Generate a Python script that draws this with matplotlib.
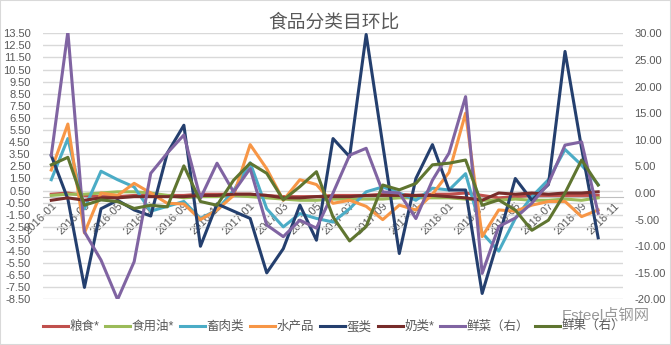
import numpy as np
import matplotlib
matplotlib.use('Agg')
import matplotlib.pyplot as plt
from matplotlib.ticker import FormatStrFormatter, MultipleLocator
from matplotlib.patches import Rectangle

plt.rcParams['font.family'] = ['Liberation Sans', 'Noto Sans CJK SC', 'DejaVu Sans']
plt.rcParams['axes.unicode_minus'] = False

# %%
months = ['2016-01', '2016-02', '2016-03', '2016-04', '2016-05', '2016-06',
          '2016-07', '2016-08', '2016-09', '2016-10', '2016-11', '2016-12',
          '2017-01', '2017-02', '2017-03', '2017-04', '2017-05', '2017-06',
          '2017-07', '2017-08', '2017-09', '2017-10', '2017-11', '2017-12',
          '2018-01', '2018-02', '2018-03', '2018-04', '2018-05', '2018-06',
          '2018-07', '2018-08', '2018-09', '2018-10', '2018-11']

# left axis (%)
grain = [0.2, 0.3, 0.1, 0.0, 0.0, 0.1, 0.1, 0.1, 0.1, 0.2, 0.2, 0.2, 0.2, 0.1, 0.0, 0.0, 0.0,
         0.1, 0.1, 0.1, 0.2, 0.2, 0.1, 0.2, 0.2, 0.3, 0.1, -0.1, 0.0, 0.1, 0.1, 0.1, 0.1, 0.1]
oil = [0.1, 0.2, 0.2, 0.3, 0.4, 0.4, 0.3, 0.1, -0.1, 0.0, 0.0, 0.1, 0.0, -0.1, -0.2, -0.3, -0.3,
       -0.2, -0.2, -0.2, -0.2, -0.1, -0.1, -0.1, -0.1, -0.2, -0.3, -0.3, -0.2, -0.3, -0.3, -0.2, -0.3, -0.1]
meat = [1.4, 4.8, -1.0, 2.1, 1.4, 0.8, -1.2, -0.8, -0.4, -1.8, -1.1, 0.5, 2.8, -1.0, -2.5, -1.4, -1.8,
        -2.1, -1.0, 0.4, 0.8, 0.3, -0.3, 0.7, 0.55, 1.9, -3.0, -4.5, -1.8, 0.0, 1.4, 3.9, 2.6, 1.0]
aquatic = [2.2, 6.0, -3.0, 0.3, 0.1, 1.1, 0.3, -0.55, -0.6, -1.9, -1.1, 0.1, 4.3, 2.3, -0.3, 1.4, 1.0,
           -0.55, -0.3, -0.8, -1.9, -0.7, -1.1, 0.2, 2.0, 6.9, -3.3, -1.1, -1.2, -0.7, -0.4, -0.4, -1.65, -1.1]
egg = [3.4, -0.2, -7.5, -1.0, -0.3, -1.1, -1.6, 3.6, 5.9, -4.1, -0.6, -1.2, -1.8, -6.3, -4.3, -0.7, -3.6,
       4.8, 3.3, 13.4, 4.3, -4.7, 1.5, 4.3, 0.55, 0.55, -8.0, -3.4, 1.5, -0.3, 1.0, 12.0, 4.0, -3.4]
milk = [-0.3, -0.1, -0.3, -0.1, -0.1, 0.0, 0.0, 0.0, 0.0, 0.1, 0.1, 0.2, 0.2, 0.1, -0.1, -0.1, 0.0,
        0.0, 0.0, 0.1, 0.1, 0.1, 0.1, 0.1, 0.0, -0.1, -0.3, 0.3, 0.2, 0.3, 0.2, 0.3, 0.3, 0.4]
# right axis (%)
veg = [7.1, 30.3, -7.3, -12.6, -20.0, -12.9, 3.7, 7.5, 10.9, -1.0, 5.6, 0.2, 4.6, -6.0, -8.2, -5.1, -6.6,
       0.0, 7.1, 8.4, 0.2, 0.0, -4.8, 2.4, 7.5, 18.1, -15.1, -6.3, -4.7, -1.9, 1.8, 9.0, 9.6, -3.8]
fruit = [5.3, 6.7, -2.3, -1.3, -1.6, -2.9, -2.3, -2.6, 5.1, -1.6, -2.3, 2.4, 5.6, 3.7, -1.3, 1.2, 4.0,
         -4.5, -9.0, -6.3, 1.5, 0.6, 1.8, 5.3, 5.6, 6.2, -2.3, -1.3, -3.2, -7.0, -5.1, 0.0, 6.2, 1.5]

left_series = [('粮食*', grain, '#C0504D'),
               ('食用油*', oil, '#9BBB59'),
               ('畜肉类', meat, '#4BACC6'),
               ('水产品', aquatic, '#F79646'),
               ('蛋类', egg, '#243F6E'),
               ('奶类*', milk, '#772C2A')]
right_series = [('鲜菜（右）', veg, '#8064A2'),
                ('鲜果（右）', fruit, '#5F7530')]

text_color = '#595959'

# %%
fig = plt.figure(figsize=(6.71, 3.45), dpi=100)
ax = fig.add_axes([0.0641, 0.1319, 0.8644, 0.7716])
ax2 = ax.twinx()

handles = []
for name, vals, col in left_series:
    h, = ax.plot(np.arange(len(vals)), vals, color=col, lw=2.2, label=name, zorder=3)
    handles.append(h)
for name, vals, col in right_series:
    h, = ax2.plot(np.arange(len(vals)), vals, color=col, lw=2.2, label=name, zorder=3)
    handles.append(h)

# spine position first, it resets the ticks
for a in (ax, ax2):
    for s in a.spines.values():
        s.set_visible(False)
ax.spines['bottom'].set_visible(True)
ax.spines['bottom'].set_position(('data', 0))
ax.spines['bottom'].set_color('#BFBFBF')
ax.spines['bottom'].set_linewidth(0.8)

ax.set_xlim(-0.5, len(months) - 0.5)
ax.set_ylim(-8.5, 13.5)
ax2.set_ylim(-20, 30)

ax.set_yticks(np.arange(-8.5, 13.6, 1.0))
ax.yaxis.set_major_formatter(FormatStrFormatter('%.2f'))
ax2.yaxis.set_major_locator(MultipleLocator(5))
ax2.yaxis.set_major_formatter(FormatStrFormatter('%.2f'))
ax.grid(axis='y', color='#D9D9D9', lw=1.0)
ax.set_axisbelow(True)

ax.set_xticks(np.arange(0, len(months), 2))
ax.set_xticklabels(months[::2], rotation=45, ha='right', va='top', rotation_mode='anchor')

ax.tick_params(axis='x', length=0, pad=3, labelsize=8, labelcolor=text_color)
ax.tick_params(axis='y', length=0, pad=9, labelsize=8, labelcolor=text_color)
ax2.tick_params(axis='y', length=0, pad=8, labelsize=8, labelcolor=text_color)

fig.text(0.498, 0.935, '食品分类目环比', ha='center', va='center', fontsize=13.5,
         color=text_color, family=['Noto Sans CJK SC', 'DejaVu Sans'], fontweight='light')

fig.legend(handles=handles, loc='center', bbox_to_anchor=(0.497, 0.053), ncol=8,
           frameon=False, fontsize=9, handlelength=2.0, handletextpad=0.1,
           columnspacing=0.5, labelcolor=text_color)

fig.text(0.903, 0.087, 'Esteel点钢网', ha='center', va='center', fontsize=11,
         color='#777777', alpha=0.75)

fig.patches.append(Rectangle((0, 0), 1, 1, transform=fig.transFigure, fill=False,
                             edgecolor='#D9D9D9', lw=1.5))

fig.savefig('out.png', dpi=100)
